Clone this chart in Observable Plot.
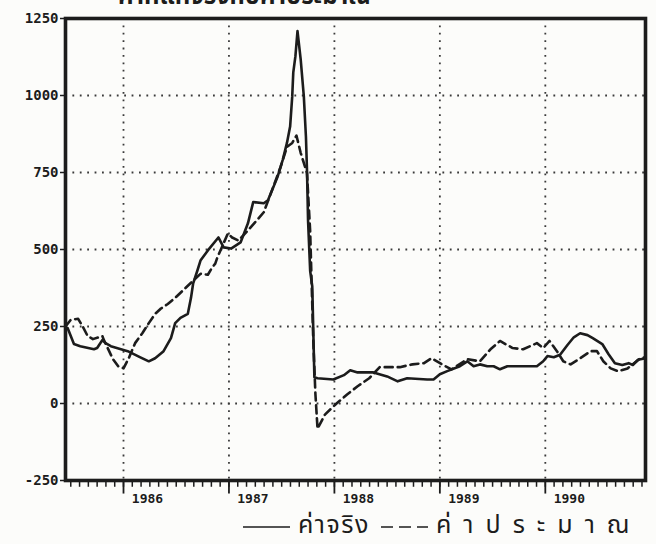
<!DOCTYPE html>
<html>
<head>
<meta charset="utf-8">
<script src="https://cdn.jsdelivr.net/npm/d3@7"></script>
<script src="https://cdn.jsdelivr.net/npm/@observablehq/plot@0.6"></script>
<style>
  html, body { margin: 0; padding: 0; background: #fcfcfa; }
  body { width: 656px; height: 544px; overflow: hidden; position: relative;
         font-family: "Noto Sans Thai", "Noto Sans", "DejaVu Sans", sans-serif; color: #1c1c1c; }
  #title { position: absolute; left: 0; top: 0; width: 656px; height: 10px; overflow: hidden; }
  #title span { position: absolute; left: 118px; top: -16px; font-size: 24px; line-height: 26px; white-space: nowrap; font-weight: bold; }
  #chart { position: absolute; left: 0; top: 10px; }
  #legend { position: absolute; left: 0; top: 512px; width: 656px; height: 32px; }
  #legend .item { position: absolute; top: 0; display: flex; align-items: center; height: 26px; font-size: 25px; white-space: nowrap; }
  #legend .item span { line-height: 26px; }
</style>
</head>
<body>
<div id="title"><span></span></div>
<div id="chart"></div>
<div id="legend"></div>
<script>
// Actual series (solid line): time in decimal years, value
const actualYears = [
  1985.45, 1985.47, 1985.53, 1985.59, 1985.72, 1985.75, 1985.80, 1985.83, 1985.88, 1986.04,
  1986.16, 1986.24, 1986.30, 1986.38, 1986.45, 1986.49, 1986.54, 1986.61, 1986.64, 1986.66,
  1986.70, 1986.73, 1986.80, 1986.90, 1986.95, 1987.02, 1987.11, 1987.18, 1987.23, 1987.33,
  1987.37, 1987.46, 1987.51, 1987.55, 1987.58, 1987.60, 1987.61, 1987.63, 1987.65, 1987.68,
  1987.71, 1987.73, 1987.74, 1987.75, 1987.77, 1987.79, 1987.81, 1987.84, 1987.99, 1988.09,
  1988.15, 1988.22, 1988.37, 1988.50, 1988.60, 1988.69, 1988.88, 1988.94, 1989.00, 1989.07,
  1989.19, 1989.26, 1989.32, 1989.38, 1989.45, 1989.51, 1989.57, 1989.64, 1989.83, 1989.92,
  1989.98, 1990.02, 1990.08, 1990.14, 1990.21, 1990.27, 1990.33, 1990.40, 1990.45, 1990.54,
  1990.60, 1990.66, 1990.73, 1990.79, 1990.83, 1990.88, 1990.95
];
const actualValues = [
  245, 245, 193, 186, 176, 180, 206, 196, 186, 170,
  150, 137, 147, 170, 212, 261, 278, 291, 343, 389,
  431, 464, 497, 539, 507, 503, 523, 585, 654, 650,
  660, 735, 791, 846, 899, 997, 1075, 1127, 1209, 1118,
  997, 866, 758, 595, 431, 380, 85, 82, 78, 92,
  108, 101, 101, 88, 72, 82, 78, 78, 95, 105,
  121, 137, 121, 127, 121, 121, 111, 121, 121, 121,
  137, 154, 150, 158, 190, 215, 228, 222, 212, 193,
  160, 131, 125, 131, 125, 142, 147
];

// Estimated series (dashed line)
const estimateYears = [
  1985.45, 1985.50, 1985.57, 1985.61, 1985.66, 1985.71, 1985.80, 1985.81, 1985.90, 1985.95,
  1986.00, 1986.05, 1986.11, 1986.18, 1986.24, 1986.30, 1986.35, 1986.42, 1986.49, 1986.56,
  1986.64, 1986.73, 1986.80, 1986.84, 1986.87, 1986.89, 1986.99, 1987.03, 1987.09, 1987.18,
  1987.28, 1987.33, 1987.42, 1987.49, 1987.55, 1987.60, 1987.64, 1987.68, 1987.74, 1987.77,
  1987.80, 1987.82, 1987.84, 1987.91, 1988.02, 1988.12, 1988.22, 1988.33, 1988.43, 1988.62,
  1988.74, 1988.85, 1988.92, 1989.02, 1989.11, 1989.26, 1989.38, 1989.48, 1989.57, 1989.69,
  1989.79, 1989.92, 1989.98, 1990.04, 1990.11, 1990.17, 1990.24, 1990.33, 1990.43, 1990.49,
  1990.55, 1990.62, 1990.69, 1990.78, 1990.90, 1990.95
];
const estimateValues = [
  250, 272, 275, 252, 219, 209, 219, 209, 144, 121,
  114, 147, 196, 229, 261, 291, 307, 323, 343, 366,
  392, 421, 418, 441, 454, 474, 552, 539, 529, 562,
  601, 621, 703, 768, 833, 846, 870, 814, 748, 560,
  200, 30, -82, -36, 0, 29, 56, 82, 118, 118,
  127, 131, 147, 127, 111, 144, 137, 176, 203, 180,
  176, 196, 180, 203, 170, 137, 127, 147, 170, 170,
  137, 114, 105, 114, 147, 150
];

// Axis ticks and labels
const yTicks = [-250, 0, 250, 500, 750, 1000, 1250];
const yGrid = [0, 250, 500, 750, 1000];
const yearTicks = [1986, 1987, 1988, 1989, 1990];
const yearLabels = ["1986", "1987", "1988", "1989", "1990"];
const seriesNames = ["ค่าจริง", "ค่าประมาณ"];
const titleText = "ค่าที่แท้จริงกับค่าประมาณ";

const actual = actualYears.map((x, i) => ({x, y: actualValues[i]}));
const estimate = estimateYears.map((x, i) => ({x, y: estimateValues[i]}));
const monthTicks = d3.range(1985.5, 1990.96, 1 / 12);

const ink = "#1c1c1c";
const dotted = {stroke: "#3a3a3a", strokeOpacity: 1, strokeWidth: 1.8, strokeDasharray: "1.8,5.6"};
const tickFont = {fontFamily: "'DejaVu Sans Mono', monospace", fontWeight: "bold"};

const chart = Plot.plot({
  width: 656,
  height: 500,
  marginLeft: 65,
  marginRight: 11,
  marginTop: 8,
  marginBottom: 30,
  x: {domain: [1985.45, 1990.95]},
  y: {domain: [-250, 1250]},
  style: {background: "transparent", fontFamily: "'DejaVu Sans Mono', monospace", fontSize: "13px", fontWeight: "bold", color: ink},
  marks: [
    Plot.gridY(yGrid, dotted),
    Plot.gridX(yearTicks, dotted),
    Plot.axisY(yTicks, {tickSize: 5, tickPadding: 2, stroke: ink, strokeWidth: 1.5, label: null, fontSize: 14, ...tickFont,
      tickFormat: d => d < 0 ? "-" + Math.abs(d) : String(d)}),
    // monthly and yearly tick marks hanging below the bottom edge
    Plot.ruleX(monthTicks, {x: d => d, y1: -250, y2: -272, stroke: ink, strokeWidth: 1.5}),
    Plot.ruleX(yearTicks, {x: d => d, y1: -250, y2: -294, stroke: ink, strokeWidth: 1.8}),
    Plot.axisX(yearTicks, {tickSize: 0, tickPadding: 13, dx: 24, label: null, fontSize: 13, ...tickFont,
      tickFormat: (d, i) => yearLabels[i]}),
    Plot.line(estimate, {x: "x", y: "y", stroke: ink, strokeWidth: 2.6, strokeDasharray: "8,5"}),
    Plot.line(actual, {x: "x", y: "y", stroke: ink, strokeWidth: 2.6}),
    Plot.frame({stroke: ink, strokeWidth: 3.6})
  ]
});
document.getElementById("chart").appendChild(chart);

document.querySelector("#title span").textContent = titleText;

// Legend below the chart
const legend = document.getElementById("legend");
function legendItem(left, dash, label, spacing) {
  const item = document.createElement("div");
  item.className = "item";
  item.style.left = left + "px";
  const sw = d3.create("svg").attr("width", 50).attr("height", 20).style("margin-right", "6px");
  sw.append("line").attr("x1", 1).attr("x2", 48).attr("y1", 12).attr("y2", 12)
    .attr("stroke", ink).attr("stroke-width", 1.6).attr("stroke-dasharray", dash);
  item.appendChild(sw.node());
  const t = document.createElement("span");
  t.textContent = label;
  t.style.letterSpacing = spacing + "px";
  item.appendChild(t);
  legend.appendChild(item);
}
legendItem(242, null, seriesNames[0], 1.5);
legendItem(380, "12,6", seriesNames[1], 12);
</script>
</body>
</html>
